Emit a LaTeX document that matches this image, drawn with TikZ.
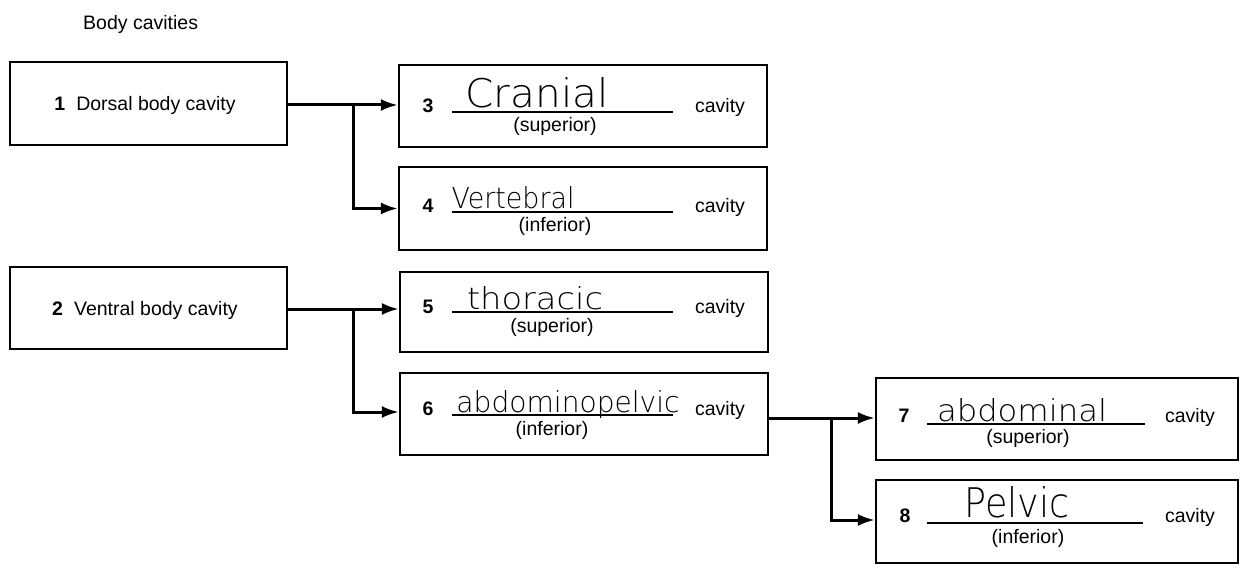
\documentclass[tikz,border=0pt]{standalone}
\usepackage{fontspec}
\usepackage{graphicx}
\setmainfont{Liberation Sans}
\newfontfamily\handfont{DejaVu Sans ExtraLight}
\usetikzlibrary{arrows.meta}

\tikzset{
  cbox/.style={draw=black, line width=2.2pt, rectangle, inner sep=0pt},
  conn/.style={line width=3pt, line cap=butt},
  tip/.style={-{Latex[length=17pt,width=12pt]}},
  lbl/.style={inner sep=0pt, anchor=base, font=\fontsize{19.5}{21}\selectfont},
  numlbl/.style={lbl, font=\fontsize{19.5}{21}\selectfont\bfseries},
  hand/.style={inner sep=0pt, anchor=base, font=\handfont\fontsize{30}{32}\selectfont},
  uline/.style={line width=1.7pt},
}

% Handwritten answer, squeezed to a given width and ascender height
\newcommand{\handword}[3]{\resizebox{#1}{#2}{#3}}

\begin{document}
\begin{tikzpicture}[x=1pt, y=-1pt]
\useasboundingbox (0,0) rectangle (1243,572);

% title
\node[lbl, anchor=base west] (title) at (83,30) {Body cavities};

% boxes
\node[cbox, minimum width=277pt, minimum height=83pt] (b1) at (148.5,103.5) {};
\node[cbox, minimum width=277pt, minimum height=82pt] (b2) at (148.5,308) {};
\node[cbox, minimum width=368pt, minimum height=82pt] (b3) at (583,106) {};
\node[cbox, minimum width=368pt, minimum height=83pt] (b4) at (583,208.5) {};
\node[cbox, minimum width=368pt, minimum height=80pt] (b5) at (584,312) {};
\node[cbox, minimum width=368pt, minimum height=82pt] (b6) at (584,414) {};
\node[cbox, minimum width=362pt, minimum height=82pt] (b7) at (1057,419) {};
\node[cbox, minimum width=362pt, minimum height=83pt] (b8) at (1057,521.5) {};

% main box labels
\node[lbl, anchor=base] (t1) at (145,111) {\textbf{1}\hspace{11pt}Dorsal body cavity};
\node[lbl, anchor=base] (t2) at (145,316) {\textbf{2}\hspace{11pt}Ventral body cavity};

% connectors
\coordinate (j1) at (353,105);
\coordinate (j2) at (353,309);
\coordinate (j3) at (831,418);
\draw[conn, tip] (b1.east |- j1) -- (j1) -- (b3.west |- j1);
\draw[conn, tip] (j1) |- (b4.west);
\draw[conn, tip] (b2.east |- j2) -- (j2) -- (b5.west |- j2);
\draw[conn, tip] (j2) |- (b6.west |- 0,412);
\draw[conn, tip] (b6.east |- j3) -- (j3) -- (b7.west |- j3);
\draw[conn, tip] (j3) |- (b8.west |- 0,520);

% box 3
\node[numlbl] (n3) at (428,113) {3};
\draw[uline] (452,112) -- (673,112);
\node[hand] (h3) at (537,108) {\handword{143pt}{30pt}{Cranial}};
\node[lbl] (s3) at (555,132) {(superior)};
\node[lbl] (c3) at (720,113) {cavity};

% box 4
\node[numlbl] (n4) at (428,213) {4};
\draw[uline] (452,212) -- (673,212);
\node[hand] (h4) at (513,209) {\handword{123pt}{22pt}{Vertebral}};
\node[lbl] (s4) at (555,232) {(inferior)};
\node[lbl] (c4) at (720,213) {cavity};

% box 5
\node[numlbl] (n5) at (428,313) {5};
\draw[uline] (452,312) -- (673,312);
\node[hand] (h5) at (535,309) {\handword{136pt}{23pt}{thoracic}};
\node[lbl] (s5) at (552,332) {(superior)};
\node[lbl] (c5) at (720,313) {cavity};

% box 6
\node[numlbl] (n6) at (428,415) {6};
\draw[uline] (452,415) -- (673,415);
\node[hand] (h6) at (568,412) {\handword{223pt}{22pt}{abdominopelvic}};
\node[lbl] (s6) at (552,435) {(inferior)};
\node[lbl] (c6) at (720,415) {cavity};

% box 7
\node[numlbl] (n7) at (904,422) {7};
\draw[uline] (927,424) -- (1145,424);
\node[hand] (h7) at (1022,421) {\handword{170pt}{23pt}{abdominal}};
\node[lbl] (s7) at (1028,443) {(superior)};
\node[lbl] (c7) at (1190,422) {cavity};

% box 8
\node[numlbl] (n8) at (905,522) {8};
\draw[uline] (927,523) -- (1143,523);
\node[hand] (h8) at (1017,517) {\handword{105pt}{31pt}{Pelvic}};
\node[lbl] (s8) at (1028,543) {(inferior)};
\node[lbl] (c8) at (1190,522) {cavity};
\end{tikzpicture}
\end{document}
